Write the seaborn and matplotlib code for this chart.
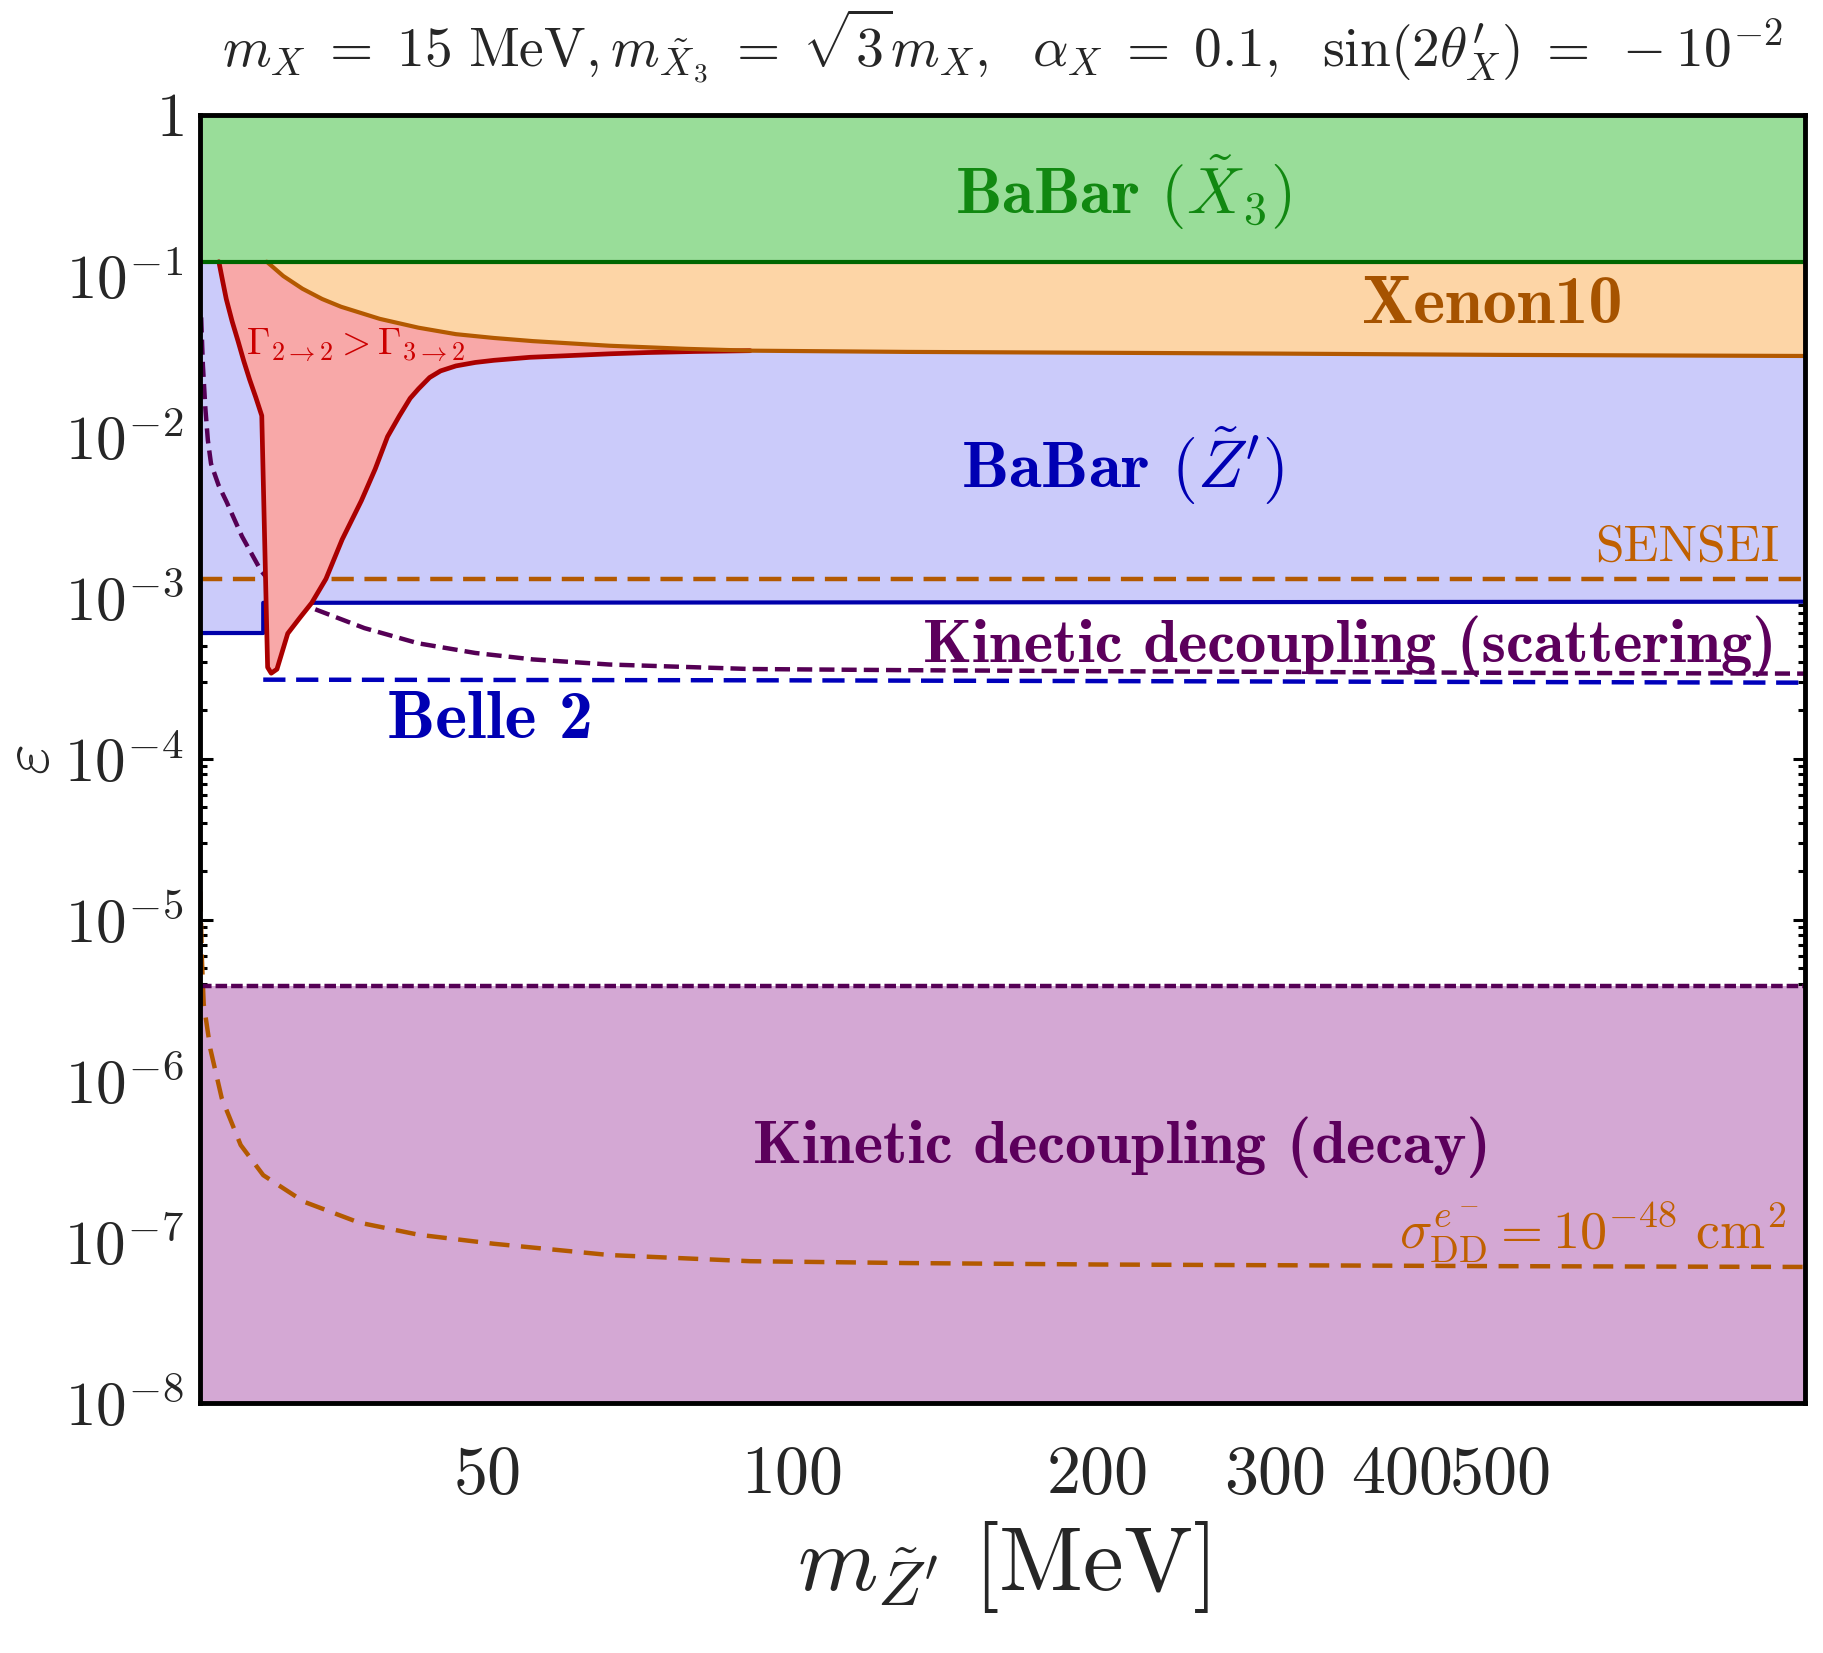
import numpy as np
import matplotlib
matplotlib.use("Agg")
import matplotlib.pyplot as plt
import matplotlib.ticker as mticker
import seaborn as sns

# axis range: m_Z' from sqrt(3) m_X up to 1 GeV
m_lo, m_hi = 25.98, 1000.0
eps_lo, eps_hi = 1e-8, 1.0

# flat bounds
babar_x3 = 0.122
sensei = 1.31e-3
kin_decay = 3.9e-6

# BaBar (Z') bound, steps up at 2 m_X
babar_zp_m = [25.98, 30.0, 30.0, 100, 300, 1000]
babar_zp_eps = [6.04e-4, 6.04e-4, 9.3e-4, 9.35e-4, 9.4e-4, 9.45e-4]

# Belle 2 projection
belle_m = [30.0, 100, 300, 1000]
belle_eps = [3.1e-4, 3.07e-4, 3.02e-4, 2.97e-4]

# Xenon10
xenon_m = [30.24, 31.4, 32.8, 34.3, 35.8, 39.1, 42.7, 46.5, 50.7, 55.4, 65.9, 78.5, 90.8,
           130, 200, 300, 500, 1000]
xenon_eps = [0.122, 0.0994, 0.0829, 0.0716, 0.0641, 0.0539, 0.0475, 0.0433, 0.0410, 0.0392,
             0.0367, 0.0351, 0.0342, 0.0336, 0.0332, 0.0328, 0.0322, 0.0317]

# Gamma_2->2 > Gamma_3->2 boundary (left branch, tip, right branch)
red_m = [27.12, 27.35, 27.58, 27.95, 28.33, 28.7, 29.08, 29.5, 29.9, 30.3, 30.55, 30.95,
         31.72, 32.6, 33.5, 34.6, 35.9, 37.5, 38.7, 39.8, 40.9, 41.9, 42.7, 43.8, 44.9,
         46.5, 48.6, 50.7, 55.0, 60.4, 66.0, 71.9, 80.0, 90.8]
red_eps = [0.122, 0.093, 0.0716, 0.052, 0.0392, 0.0295, 0.0227, 0.0175, 0.0135, 3.7e-4,
           3.4e-4, 3.6e-4, 6.0e-4, 7.5e-4, 9.3e-4, 1.31e-3, 2.3e-3, 4.0e-3, 6.3e-3, 0.0100,
           0.0135, 0.0173, 0.0198, 0.0233, 0.0256, 0.0275, 0.0289, 0.0298, 0.0311, 0.0319,
           0.0327, 0.0333, 0.0338, 0.0342]

# kinetic decoupling (scattering)
kin_scat_m = [26.05, 26.15, 26.3, 26.45, 26.64, 27.1, 27.6, 28.58, 29.85, 31.17, 33.73,
              37.76, 42.7, 48.6, 55.4, 65.9, 90.8, 130, 200, 500, 1000]
kin_scat_eps = [0.055, 0.028, 0.015, 0.0095, 6.8e-3, 5.0e-3, 3.94e-3, 2.41e-3, 1.47e-3,
                1.06e-3, 8.5e-4, 6.48e-4, 5.21e-4, 4.54e-4, 4.14e-4, 3.85e-4, 3.61e-4,
                3.55e-4, 3.5e-4, 3.42e-4, 3.38e-4]

# sigma_DD = 1e-48 cm^2 contour
sigma_m = [26.0, 26.1, 26.2, 26.6, 27.3, 28.5, 30.0, 32.9, 37.3, 42.7, 50.7, 65.9, 90.8,
           130, 200, 500, 1000]
sigma_eps = [1.5e-5, 5.5e-6, 3.0e-6, 1.58e-6, 7.8e-7, 4.0e-7, 2.6e-7, 1.78e-7, 1.32e-7,
             1.11e-7, 9.75e-8, 8.3e-8, 7.6e-8, 7.4e-8, 7.25e-8, 7.08e-8, 7.0e-8]

# ticks
x_ticks = [50, 100, 200, 300, 400, 500]
x_labels = ["50", "100", "200", "300", "400", "500"]
x_minor = [600, 700, 800, 900]
y_ticks = [1e-8, 1e-7, 1e-6, 1e-5, 1e-4, 1e-3, 1e-2, 1e-1, 1]
y_labels = [r"$10^{-8}$", r"$10^{-7}$", r"$10^{-6}$", r"$10^{-5}$", r"$10^{-4}$",
            r"$10^{-3}$", r"$10^{-2}$", r"$10^{-1}$", r"$1$"]

sns.set_theme(style="ticks")
plt.rcParams.update({
    "font.family": "cmr10",
    "mathtext.fontset": "cm",
    "axes.unicode_minus": False,
    "axes.formatter.use_mathtext": True,
})

fig = plt.figure(figsize=(18.23, 16.53), dpi=100)
ax = fig.add_axes([0.1097, 0.1512, 0.8804, 0.7795])
ax.set_xscale("log")
ax.set_yscale("log")

full_m = [m_lo, m_hi]

# filled regions
ax.fill_between(babar_zp_m, babar_zp_eps, babar_x3, color="#cbcbfa", lw=0, zorder=1)
ax.fill_between(full_m, babar_x3, eps_hi, color="#99dd99", lw=0, zorder=1)
ax.fill_between(full_m, eps_lo, kin_decay, color="#d4a8d4", lw=0, zorder=1)
ax.fill_between(xenon_m, xenon_eps, babar_x3, color="#fdd5a6", lw=0, zorder=2)


def line(m, eps, color, lw=3.0, ls="-", z=3):
    sns.lineplot(x=m, y=eps, ax=ax, sort=False, estimator=None, legend=False,
                 color=color, lw=lw, linestyle=ls, zorder=z)


line(babar_zp_m, babar_zp_eps, "#0000aa")
line(full_m, [sensei, sensei], "#b35900", lw=3.2, ls=(0, (5, 2.4)))
line(kin_scat_m, kin_scat_eps, "#550055", lw=3.2, ls=(0, (3.4, 1.6)))
line(belle_m, belle_eps, "#0000bb", lw=3.2, ls=(0, (5, 2.4)))
line(sigma_m, sigma_eps, "#b35900", lw=3.2, ls=(0, (4.5, 2.6)))
line(full_m, [kin_decay, kin_decay], "#550055", lw=3.2, ls=(0, (2.6, 0.9)))

# Gamma region: red boundary closed along the Xenon10 curve
xen_back = [(m, e) for m, e in zip(xenon_m, xenon_eps) if m <= red_m[-1]][::-1]
poly_m = red_m + [p[0] for p in xen_back] + [red_m[0]]
poly_eps = red_eps + [p[1] for p in xen_back] + [red_eps[0]]
ax.fill(poly_m, poly_eps, color="#f8a8a8", lw=0, zorder=4)
line(red_m, red_eps, "#aa0000", lw=3.4, z=5)
line(xenon_m, xenon_eps, "#b35900", lw=3.0, z=5)
line(full_m, [babar_x3, babar_x3], "#006600", lw=3.0, z=5)

# labels inside the plot
bold = dict(fontfamily="cmb10", zorder=6, va="baseline")
ax.text(212, 0.241, r"BaBar $(\tilde{X}_3)$", color="#118811", fontsize=47, ha="center", **bold)
ax.text(491, 0.051, "Xenon10", color="#a65300", fontsize=49, ha="center", **bold)
ax.text(212, 4.78e-3, r"BaBar $(\tilde{Z}^{\prime})$", color="#0000b3", fontsize=48,
        ha="center", **bold)
ax.text(50.3, 1.34e-4, "Belle 2", color="#0000b3", fontsize=49, ha="center", **bold)
ax.text(355, 4.0e-4, "Kinetic decoupling (scattering)", color="#5c005c", fontsize=45,
        ha="center", **bold)
ax.text(211.7, 3.11e-7, "Kinetic decoupling (decay)", color="#5c005c", fontsize=45,
        ha="center", **bold)
ax.text(944, 1.69e-3, "SENSEI", color="#c06000", fontsize=37, ha="right", va="baseline", zorder=6)
ax.text(959, 9.0e-8, r"$\sigma^{e^-}_{\mathrm{DD}} = 10^{-48}\ \mathrm{cm}^2$", color="#c06000",
        fontsize=39, ha="right", va="baseline", zorder=6)
ax.text(28.84, 0.0324, r"$\Gamma_{2\to2} > \Gamma_{3\to2}$", color="#cc0000", fontsize=27,
        ha="left", va="baseline", zorder=6)

ax.set_xlim(m_lo, m_hi)
ax.set_ylim(eps_lo, eps_hi)

ax.xaxis.set_major_locator(mticker.FixedLocator(x_ticks))
ax.xaxis.set_major_formatter(mticker.FixedFormatter(x_labels))
ax.xaxis.set_minor_locator(mticker.FixedLocator(x_minor))
ax.xaxis.set_minor_formatter(mticker.NullFormatter())
ax.yaxis.set_major_locator(mticker.FixedLocator(y_ticks))
ax.yaxis.set_major_formatter(mticker.FixedFormatter(y_labels))
ax.yaxis.set_minor_locator(mticker.LogLocator(base=10, subs=np.arange(2, 10), numticks=100))
ax.yaxis.set_minor_formatter(mticker.NullFormatter())

ax.tick_params(which="both", direction="in", top=True, right=True, width=2.2, color="black")
ax.tick_params(axis="x", which="both", length=6, pad=30, labelsize=49)
ax.tick_params(axis="y", which="major", length=9, pad=12, labelsize=44)
ax.tick_params(axis="y", which="minor", length=5)
for s in ax.spines.values():
    s.set_linewidth(3.5)
    s.set_color("black")
    s.set_zorder(10)

ax.set_title(r"$m_X \;=\; 15\ \mathrm{MeV}, m_{\tilde{X}_3} \;=\; \sqrt{3}m_X,\ \ \alpha_X \;=\; 0.1,"
             r"\ \ \sin(2\theta^{\prime}_X) \;=\; -10^{-2}$", fontsize=40, pad=35)
ax.set_xlabel(r"$m_{\tilde{Z}^{\prime}}\ [\mathrm{MeV}]$", fontsize=66)
ax.xaxis.set_label_coords(0.5, -0.09)
fig.text(32 / 1823, 1 - 760 / 1653, r"$\varepsilon$", fontsize=48, rotation=90,
         ha="center", va="center")

fig.savefig("out.png", dpi=100)
